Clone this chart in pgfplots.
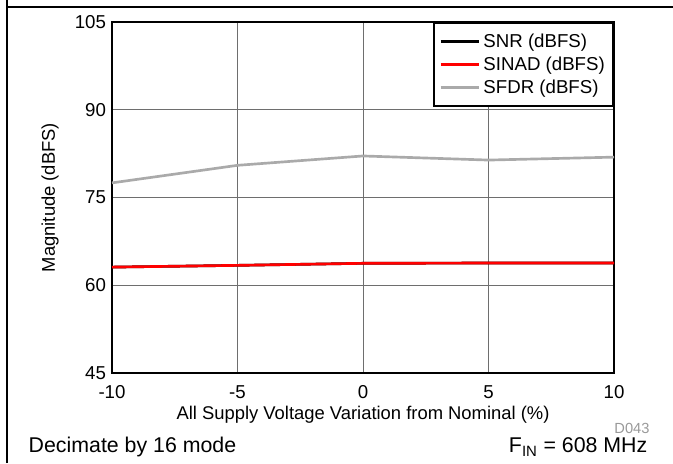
\documentclass[border=0pt]{standalone}
\usepackage{pgfplots}
\pgfplotsset{compat=1.18}
\usepackage{fontspec}
\setmainfont{Liberation Sans}
\definecolor{sfdrgray}{RGB}{170,170,170}
\definecolor{gridgray}{RGB}{110,110,110}
\begin{document}
\begin{tikzpicture}
\begin{axis}[
  at={(0,0)}, anchor=south west,
  scale only axis,
  width=376.5pt, height=263.25pt,
  xmin=-10, xmax=10, ymin=45, ymax=105,
  xtick={-10,-5,0,5,10},
  ytick={45,60,75,90,105},
  grid=major,
  major grid style={gridgray, line width=0.7pt},
  axis line style={black, line width=2.2pt},
  tick style={draw=none},
  /pgf/number format/assume math mode=true,
  ticklabel style={font=\fontsize{14}{16}\selectfont},
  xticklabel style={yshift=-6pt},
  yticklabel style={xshift=-1pt},
  xlabel={All Supply Voltage Variation from Nominal (\%)},
  ylabel={Magnitude (dBFS)},
  label style={font=\fontsize{13.8}{16}\selectfont},
  xlabel style={at={([yshift=-31.5pt]axis description cs:0.5,0)}, anchor=center},
  ylabel style={at={([xshift=-46.5pt]axis description cs:0,0.5)}, anchor=center},
  legend style={at={(rel axis cs:1,1)}, anchor=north east,
    draw=black, line width=1.8pt, font=\fontsize{14}{16}\selectfont,
    inner xsep=4pt, inner ysep=6pt, row sep=1.5pt,
    cells={anchor=west}},
  legend image code/.code={\draw[#1, line width=2.2pt] (0pt,0pt) -- (25pt,0pt);
    \path (0pt,0pt) -- (29pt,0pt);},
  clip=false,
]
\addplot[black, line width=2pt] coordinates {(-10,63.1) (-5,63.4) (0,63.75) (5,63.8) (10,63.8)};
\addplot[red, line width=2pt] coordinates {(-10,63.1) (-5,63.4) (0,63.75) (5,63.8) (10,63.8)};
\addplot[sfdrgray, line width=2pt] coordinates {(-10,77.5) (-5,80.5) (0,82.1) (5,81.4) (10,81.9)};
\legend{SNR (dBFS), SINAD (dBFS), SFDR (dBFS)}
\end{axis}
\useasboundingbox (-84pt,-67.5pt) rectangle (420.75pt,279.75pt);
\draw[black, line width=0.9pt] (-78.75pt,-67.5pt) -- (-78.75pt,279.75pt);
\draw[black, line width=0.9pt] (-78.75pt,274.5pt) -- (420.75pt,274.5pt);
\node[anchor=west, font=\fontsize{16}{18}\selectfont] at (-66pt,-55.5pt) {Decimate by 16 mode};
\node[anchor=east, font=\fontsize{16}{18}\selectfont] at (405pt,-55.5pt) {F\textsubscript{IN} = 608 MHz};
\node[font=\fontsize{11}{12}\selectfont, text=gray!80] at (390pt,-41.5pt) {D043};
\end{tikzpicture}
\end{document}
